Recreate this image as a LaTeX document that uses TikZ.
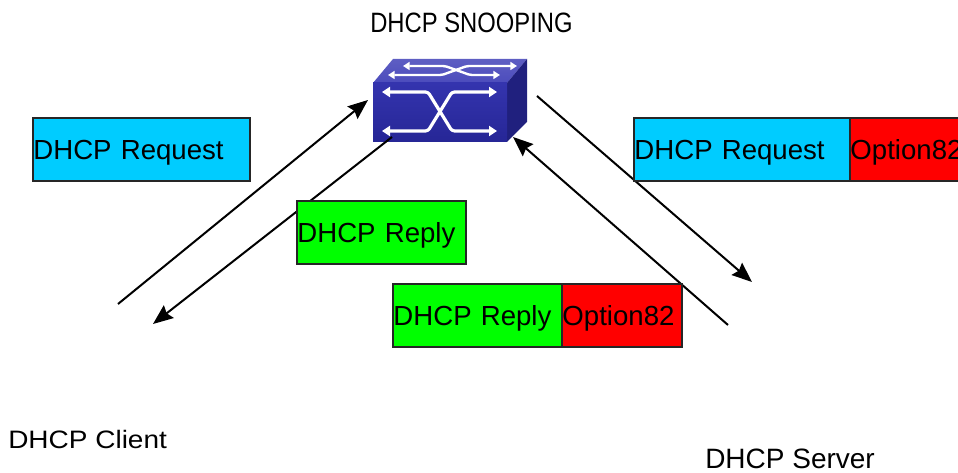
\documentclass[tikz,border=0pt]{standalone}
\usepackage{fontspec}
\setmainfont{Liberation Sans}
\usetikzlibrary{arrows.meta}
\definecolor{reqcyan}{HTML}{00CCFF}
\definecolor{repgreen}{HTML}{00FF00}
\definecolor{optred}{HTML}{FF0000}
\definecolor{swfronttop}{HTML}{3434AE}
\definecolor{swfrontbot}{HTML}{262696}
\definecolor{swtopc}{HTML}{4C4CBC}
\definecolor{swsidec}{HTML}{20207E}
\begin{document}
\begin{tikzpicture}[x=0.75pt,y=-0.75pt,
  lbl/.style={font=\fontsize{21}{24}\selectfont, inner sep=0pt},
  pkt/.style={draw=black!85, line width=1.2pt, anchor=north west, inner xsep=0.5pt, inner ysep=0pt,
    minimum height=47.25pt, text height=15pt, text depth=0pt,
    font=\fontsize{20.7}{24}\selectfont, align=left},
  conn/.style={line width=1.5pt, -{Stealth[length=15pt,width=12pt,inset=2pt]}},
  wline/.style={white, line width=2.4pt, rounded corners=2pt,
    {Triangle[length=6pt,width=7.5pt]}-{Triangle[length=6pt,width=7.5pt]}},
  wlinet/.style={white, line width=1.8pt, rounded corners=1.5pt,
    {Triangle[length=5pt,width=6pt]}-{Triangle[length=5pt,width=6pt]}}
]
\useasboundingbox (0,0) rectangle (958,473);

% switch
\shade[top color=swtopc!90!white, bottom color=swtopc] (373,83) -- (393,59) -- (527,59) -- (507,83) -- cycle;
\fill[swsidec] (507,83) -- (527,59) -- (527,122) -- (507,142) -- cycle;
\shade[top color=swfronttop, bottom color=swfrontbot] (373,83) rectangle (507,142);
\draw[wlinet] (403,66) -- (445,66) -- (470,75) -- (500,75);
\draw[wlinet] (388,75) -- (442,75) -- (467,66) -- (517,66);
\draw[wline] (382,92) -- (428,92) -- (452,131) -- (497,131);
\draw[wline] (382,131) -- (428,131) -- (452,92) -- (497,92);

% connectors
\coordinate (cA) at (118,304); \coordinate (sA) at (368,100);
\coordinate (sB) at (392,137); \coordinate (cB) at (153,324);
\coordinate (sC) at (537,96);  \coordinate (vC) at (752,282);
\coordinate (vD) at (728,325); \coordinate (sD) at (513,137);
\draw[conn] (cA) -- (sA);
\draw[conn] (sB) -- (cB);
\draw[conn] (sC) -- (vC);
\draw[conn] (vD) -- (sD);

% packets
\node[pkt, fill=reqcyan, text width=161.75pt] (req1) at (32,117) {DHCP Request};
\node[pkt, fill=reqcyan, text width=161pt] (req2) at (633,117) {DHCP Request};
\node[pkt, fill=optred, text width=84pt] (opt2) at (849,117) {Option82};
\node[pkt, fill=repgreen, text width=125.75pt] (rep1) at (296,200) {DHCP Reply};
\node[pkt, fill=repgreen, text width=125.75pt] (rep2) at (392,283) {DHCP Reply};
\node[pkt, fill=optred, text width=89pt] (opt3) at (561,283) {Option82};

% labels
\node[lbl, anchor=base west] (snoop) at (370,33) {\scalebox{0.85}[1]{DHCP SNOOPING}};
\node[lbl, anchor=base west] (client) at (8,449) {\scalebox{1}[0.9]{DHCP Client}};
\node[lbl, anchor=base west] (server) at (705,469) {DHCP Server};
\end{tikzpicture}
\end{document}
